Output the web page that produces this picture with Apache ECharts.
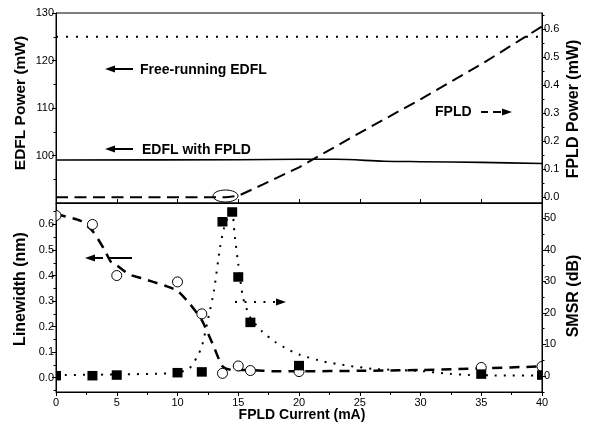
<!DOCTYPE html>
<html>
<head>
<meta charset="utf-8">
<script src="https://cdn.jsdelivr.net/npm/echarts@6/dist/echarts.min.js"></script>
<style>
html,body{margin:0;padding:0;background:#fff;}
#c{width:591px;height:426px;}
</style>
</head>
<body>
<div id="c"></div>
<script>
// ---- data ----
// top panel
const freeRunX = [0, 40];
const freeRunY = [125, 125];
const edflX = [0, 15, 20, 23, 27, 30, 35, 40];
const edflY = [99.05, 99.1, 99.2, 99.2, 98.8, 98.7, 98.55, 98.3];
const fpldX = [0, 14, 15, 17, 20, 25, 30, 35, 40];
const fpldY = [0, 0, 0.005, 0.045, 0.107, 0.23, 0.35, 0.475, 0.61];
// bottom panel: measured points
const lwX = [0, 3, 5, 10, 12, 13.7, 15, 16, 20, 35, 40];
const lwY = [0.635, 0.60, 0.40, 0.375, 0.25, 0.017, 0.046, 0.028, 0.024, 0.04, 0.044];
const smsrX = [0, 3, 5, 10, 12, 13.7, 14.5, 15, 16, 20, 35, 40];
const smsrY = [0.1, 0.1, 0.3, 1.05, 1.3, 48.9, 52, 31.4, 17, 3.3, 0.6, 0.3];
// bottom panel: guide curves
const lwFitX = [0, 2, 3, 4, 4.5, 5, 6, 7, 8, 9, 10, 11, 12, 13, 13.7, 14.5, 16, 18, 20, 25, 30, 35, 40];
const lwFitY = [0.64, 0.615, 0.575, 0.5, 0.455, 0.44, 0.405, 0.39, 0.375, 0.36, 0.34, 0.29, 0.225, 0.12, 0.045, 0.03, 0.03, 0.025, 0.025, 0.027, 0.03, 0.037, 0.044];
const smsrFitX = [0, 5, 10, 11, 11.6, 12, 12.5, 13, 13.5, 13.8, 14.2, 14.5, 14.7, 15, 15.4, 16, 17, 18, 19, 20, 22, 24, 26, 28, 30, 32, 34, 36, 40];
const smsrFitY = [0.3, 0.5, 1.0, 2.5, 6, 9.3, 17.8, 27, 40.8, 46.5, 51, 52, 44.9, 35.5, 24.7, 18.5, 14, 10.9, 8.6, 6.8, 4.6, 3.3, 2.3, 1.9, 1.6, 0.8, 0.3, 0.2, 0.2];
// tick labels
const edflTicks = [100, 110, 120, 130];
const edflMinor = [95, 105, 115, 125];
const fpldTicks = [0, 0.1, 0.2, 0.3, 0.4, 0.5, 0.6];
const fpldMinor = [0.05, 0.15, 0.25, 0.35, 0.45, 0.55, 0.65];
const lwTicks = [0, 0.1, 0.2, 0.3, 0.4, 0.5, 0.6];
const lwMinor = [-0.05, 0.05, 0.15, 0.25, 0.35, 0.45, 0.55, 0.65];
const smsrTicks = [0, 10, 20, 30, 40, 50];
const smsrMinor = [-5, 5, 15, 25, 35, 45];

const zip = (a, b) => a.map((v, i) => [v, b[i]]);
const FONT = '"Liberation Sans", Arial, Helvetica, sans-serif';
const BLACK = '#000';

function mainY(grid, pos, min, max, ticks, fmt) {
  return {
    type: 'value', gridIndex: grid, position: pos, min: min, max: max,
    axisLine: {show: true, onZero: false, lineStyle: {color: BLACK, width: 1}},
    axisTick: {show: true, inside: false, length: 4, lineStyle: {color: BLACK}, customValues: ticks},
    axisLabel: {show: true, customValues: ticks, margin: 2, color: BLACK,
      fontFamily: FONT, fontSize: 11, formatter: fmt},
    splitLine: {show: false}
  };
}
function minorY(grid, pos, min, max, ticks) {
  return {
    type: 'value', gridIndex: grid, position: pos, min: min, max: max,
    axisLine: {show: false, onZero: false},
    axisTick: {show: true, inside: false, length: 2.5, lineStyle: {color: BLACK}, customValues: ticks},
    axisLabel: {show: false},
    splitLine: {show: false}
  };
}

// symbols clipped at the plot edges (half symbols at x = 0 and x = 40)
function circleItem(params, api) {
  const p = api.coord([api.value(0), api.value(1)]);
  const cs = params.coordSys;
  const r = 5;
  const style = {fill: '#fff', stroke: BLACK, lineWidth: 1};
  if (p[0] - r < cs.x) {
    return {type: 'sector', shape: {cx: p[0], cy: p[1], r0: 0, r: r, startAngle: -Math.PI / 2, endAngle: Math.PI / 2, clockwise: true}, style: style};
  }
  if (p[0] + r > cs.x + cs.width) {
    return {type: 'sector', shape: {cx: p[0], cy: p[1], r0: 0, r: r, startAngle: Math.PI / 2, endAngle: Math.PI * 1.5, clockwise: true}, style: style};
  }
  return {type: 'circle', shape: {cx: p[0], cy: p[1], r: r}, style: style};
}
function squareItem(params, api) {
  const p = api.coord([api.value(0), api.value(1)]);
  const cs = params.coordSys;
  const w = 10, h = 9.5;
  const x0 = Math.max(p[0] - w / 2, cs.x);
  const x1 = Math.min(p[0] + w / 2, cs.x + cs.width);
  return {type: 'rect', shape: {x: x0, y: p[1] - h / 2, width: x1 - x0, height: h}, style: {fill: BLACK}};
}

const chart = echarts.init(document.getElementById('c'), null, {renderer: 'canvas'});
const option = {
  animation: false,
  backgroundColor: '#fff',
  grid: [
    {left: 56, right: 49, top: 13, height: 190, show: true, borderColor: BLACK, borderWidth: 1, backgroundColor: 'transparent'},
    {left: 56, right: 49, top: 203, height: 189, show: true, borderColor: BLACK, borderWidth: 1, backgroundColor: 'transparent'}
  ],
  xAxis: [
    {type: 'value', gridIndex: 0, min: 0, max: 40, interval: 5, position: 'bottom',
      axisLine: {show: true, onZero: false, lineStyle: {color: BLACK}},
      axisTick: {show: true, inside: true, length: 4, lineStyle: {color: BLACK}},
      axisLabel: {show: false}, splitLine: {show: false}},
    {type: 'value', gridIndex: 1, min: 0, max: 40, interval: 5, position: 'bottom',
      axisLine: {show: true, onZero: false, lineStyle: {color: BLACK}},
      axisTick: {show: true, inside: false, length: 4, lineStyle: {color: BLACK}},
      minorTick: {show: true, splitNumber: 2, length: 3, lineStyle: {color: BLACK}},
      axisLabel: {show: true, margin: 5, color: BLACK, fontFamily: FONT, fontSize: 11},
      splitLine: {show: false}}
  ],
  yAxis: [
    mainY(0, 'left', 90, 130, edflTicks, v => String(v)),
    mainY(0, 'right', -0.0204, 0.658, fpldTicks, v => v.toFixed(1)),
    mainY(1, 'left', -0.056, 0.684, lwTicks, v => v.toFixed(1)),
    mainY(1, 'right', -5.07, 54.85, smsrTicks, v => String(v)),
    minorY(0, 'left', 90, 130, edflMinor),
    minorY(0, 'right', -0.0204, 0.658, fpldMinor),
    minorY(1, 'left', -0.056, 0.684, lwMinor),
    minorY(1, 'right', -5.07, 54.85, smsrMinor)
  ],
  series: [
    {name: 'Free-running EDFL', type: 'line', xAxisIndex: 0, yAxisIndex: 0, data: zip(freeRunX, freeRunY),
      showSymbol: false, lineStyle: {color: BLACK, width: 2, type: [2, 8]}},
    {name: 'EDFL with FPLD', type: 'line', xAxisIndex: 0, yAxisIndex: 0, data: zip(edflX, edflY),
      showSymbol: false, smooth: 0.3, lineStyle: {color: BLACK, width: 1.6, type: 'solid'}},
    {name: 'FPLD', type: 'line', xAxisIndex: 0, yAxisIndex: 1, data: zip(fpldX, fpldY),
      showSymbol: false, lineStyle: {color: BLACK, width: 2, type: [12, 6.5]}},
    {name: 'Linewidth fit', type: 'line', xAxisIndex: 1, yAxisIndex: 2, data: zip(lwFitX, lwFitY),
      showSymbol: false, smooth: 0.2, lineStyle: {color: BLACK, width: 2.5, type: [10, 7]}},
    {name: 'SMSR fit', type: 'line', xAxisIndex: 1, yAxisIndex: 3, data: zip(smsrFitX, smsrFitY),
      showSymbol: false, smooth: 0.2, lineStyle: {color: BLACK, width: 2, type: [2, 7]}},
    {name: 'Linewidth', type: 'custom', xAxisIndex: 1, yAxisIndex: 2, data: zip(lwX, lwY), clip: true, z: 5,
      encode: {x: 0, y: 1}, renderItem: circleItem},
    {name: 'SMSR', type: 'custom', xAxisIndex: 1, yAxisIndex: 3, data: zip(smsrX, smsrY), clip: true, z: 6,
      encode: {x: 0, y: 1}, renderItem: squareItem}
  ],
  graphic: [
    // axis titles
    {type: 'text', x: 21, y: 103, rotation: Math.PI / 2,
      style: {text: 'EDFL Power (mW)', font: 'bold 15.5px ' + FONT, fill: BLACK, align: 'center', verticalAlign: 'middle'}},
    {type: 'text', x: 21, y: 289, rotation: Math.PI / 2,
      style: {text: 'Linewidth (nm)', font: 'bold 16px ' + FONT, fill: BLACK, align: 'center', verticalAlign: 'middle'}},
    {type: 'text', x: 574, y: 109, rotation: Math.PI / 2,
      style: {text: 'FPLD Power (mW)', font: 'bold 16px ' + FONT, fill: BLACK, align: 'center', verticalAlign: 'middle'}},
    {type: 'text', x: 574, y: 296, rotation: Math.PI / 2,
      style: {text: 'SMSR (dB)', font: 'bold 16px ' + FONT, fill: BLACK, align: 'center', verticalAlign: 'middle'}},
    {type: 'text', x: 302, y: 415,
      style: {text: 'FPLD Current (mA)', font: 'bold 14px ' + FONT, fill: BLACK, align: 'center', verticalAlign: 'middle'}},
    // annotations
    {type: 'text', x: 140, y: 70,
      style: {text: 'Free-running EDFL', font: 'bold 14px ' + FONT, fill: BLACK, align: 'left', verticalAlign: 'middle'}},
    {type: 'line', shape: {x1: 113, y1: 69, x2: 133, y2: 69}, style: {stroke: BLACK, lineWidth: 2}},
    {type: 'polygon', shape: {points: [[105, 69], [115, 65.5], [115, 72.5]]}, style: {fill: BLACK}},
    {type: 'text', x: 142, y: 150,
      style: {text: 'EDFL with FPLD', font: 'bold 14px ' + FONT, fill: BLACK, align: 'left', verticalAlign: 'middle'}},
    {type: 'line', shape: {x1: 113, y1: 149, x2: 133, y2: 149}, style: {stroke: BLACK, lineWidth: 2}},
    {type: 'polygon', shape: {points: [[105, 149], [115, 145.5], [115, 152.5]]}, style: {fill: BLACK}},
    {type: 'text', x: 435, y: 112,
      style: {text: 'FPLD', font: 'bold 14px ' + FONT, fill: BLACK, align: 'left', verticalAlign: 'middle'}},
    {type: 'line', shape: {x1: 481, y1: 112, x2: 488, y2: 112}, style: {stroke: BLACK, lineWidth: 2}},
    {type: 'line', shape: {x1: 493, y1: 112, x2: 501, y2: 112}, style: {stroke: BLACK, lineWidth: 2}},
    {type: 'polygon', shape: {points: [[512, 112], [502, 108.5], [502, 115.5]]}, style: {fill: BLACK}},
    {type: 'ellipse', shape: {cx: 225.5, cy: 196, rx: 12.5, ry: 6}, style: {fill: 'none', stroke: BLACK, lineWidth: 1}},
    {type: 'polygon', shape: {points: [[85, 258], [95, 254.5], [95, 261.5]]}, style: {fill: BLACK}},
    {type: 'line', shape: {x1: 95, y1: 258, x2: 103, y2: 258}, style: {stroke: BLACK, lineWidth: 2}},
    {type: 'line', shape: {x1: 108, y1: 258, x2: 132, y2: 258}, style: {stroke: BLACK, lineWidth: 2}},
    {type: 'line', shape: {x1: 235, y1: 302, x2: 276, y2: 302}, style: {stroke: BLACK, lineWidth: 2, lineDash: [2, 7.5]}},
    {type: 'polygon', shape: {points: [[286, 302], [276, 298.5], [276, 305.5]]}, style: {fill: BLACK}}
  ]
};
chart.setOption(option);
</script>
</body>
</html>
